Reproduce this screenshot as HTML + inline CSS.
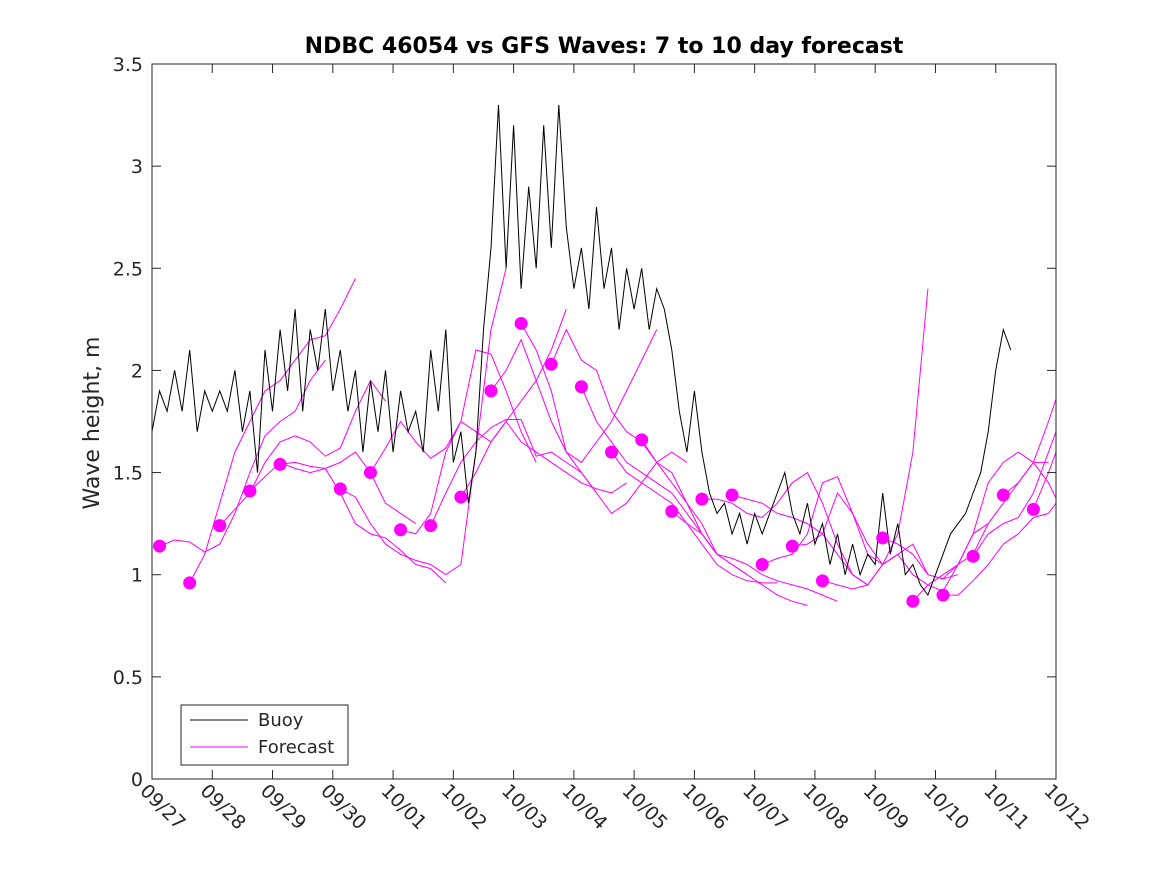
<!DOCTYPE html>
<html><head><meta charset="utf-8"><style>
body{margin:0;background:#fff;font-family:"Liberation Sans",sans-serif}
svg text{font-family:"DejaVu Sans","Liberation Sans",sans-serif;fill:#262626}
</style></head><body>
<svg id="chart" width="1167" height="875" xmlns="http://www.w3.org/2000/svg">
<rect width="1167" height="875" fill="#fff"/>
<defs><clipPath id="clip"><rect x="152" y="64" width="904" height="715"/></clipPath></defs>
<text x="604" y="53" text-anchor="middle" font-size="22" font-weight="bold" style="fill:#000">NDBC 46054 vs GFS Waves: 7 to 10 day forecast</text>
<text transform="translate(99,423) rotate(-90)" text-anchor="middle" font-size="22">Wave height, m</text>
<g id="plot" clip-path="url(#clip)"></g>
<g id="axes"></g>
<g>
<rect x="181" y="705" width="167" height="60" fill="#fff" stroke="#262626" stroke-width="1"/>
<line x1="190" y1="720" x2="248" y2="720" stroke="#000"/>
<text x="258" y="726" font-size="18">Buoy</text>
<line x1="190" y1="747" x2="248" y2="747" stroke="#f0f"/>
<text x="258" y="753" font-size="18">Forecast</text>
</g>
</svg>
<script>
const xTickLabels=["09/27","09/28","09/29","09/30","10/01","10/02","10/03","10/04","10/05","10/06","10/07","10/08","10/09","10/10","10/11","10/12"];
const yTicks=[0,0.5,1,1.5,2,2.5,3,3.5];
const yTickLabels=["0","0.5","1","1.5","2","2.5","3","3.5"];
const buoyStepDays=0.125;
const buoyValues=[
1.70,1.90,1.80,2.00,1.80,2.10,1.70,1.90,
1.80,1.90,1.80,2.00,1.70,1.90,1.50,2.10,
1.80,2.20,1.90,2.30,1.80,2.20,2.00,2.30,
1.90,2.10,1.80,2.00,1.60,1.95,1.70,2.00,
1.60,1.90,1.70,1.80,1.60,2.10,1.80,2.20,
1.55,1.70,1.35,1.60,2.20,2.60,3.30,2.50,
3.20,2.40,2.90,2.50,3.20,2.60,3.30,2.70,
2.40,2.60,2.30,2.80,2.40,2.60,2.20,2.50,
2.30,2.50,2.20,2.40,2.30,2.10,1.80,1.60,
1.90,1.60,1.40,1.30,1.35,1.20,1.30,1.15,
1.30,1.20,1.30,1.40,1.50,1.30,1.20,1.35,
1.15,1.25,1.05,1.20,1.00,1.15,1.00,1.10,
1.05,1.40,1.10,1.25,1.00,1.05,0.95,0.90,
1.00,1.10,1.20,1.25,1.30,1.40,1.50,1.70,
2.00,2.20,2.10];
const forecastStepDays=0.25;
const forecastStarts=[0.125,0.625,1.125,1.625,2.125,3.125,3.625,4.125,4.625,5.125,5.625,6.125,6.625,7.125,7.625,8.125,8.625,9.125,9.625,10.125,10.625,11.125,12.125,12.625,13.125,13.625,14.125,14.625];
const forecastValues=[
[1.14,1.17,1.16,1.11,1.15,1.30,1.50,1.68,1.75,1.80,1.95,2.05],
[0.96,1.10,1.35,1.60,1.75,1.90,1.95,2.05,2.15,2.17,2.30,2.45],
[1.24,1.32,1.40,1.55,1.65,1.68,1.65,1.58,1.62,1.80,1.95,1.85],
[1.41,1.48,1.55,1.52,1.50,1.52,1.55,1.60,1.50,1.35,1.30,1.25],
[1.54,1.55,1.53,1.52,1.40,1.25,1.20,1.18,1.12,1.05,1.03,0.96],
[1.42,1.38,1.25,1.15,1.10,1.07,1.05,1.00,1.05,1.60,2.20,2.50],
[1.50,1.62,1.75,1.65,1.57,1.62,1.75,2.10,2.08,1.90,1.70,1.55],
[1.22,1.20,1.30,1.60,1.75,1.70,1.65,1.75,1.85,1.95,2.10,2.30],
[1.24,1.40,1.55,1.65,1.72,1.76,1.76,1.58,1.60,1.55,1.50,1.40],
[1.38,1.50,1.65,1.75,1.65,1.60,1.55,1.50,1.45,1.42,1.40,1.45],
[1.90,2.00,2.15,1.95,1.75,1.60,1.55,1.65,1.75,1.90,2.05,2.20],
[2.23,2.10,1.90,1.60,1.50,1.40,1.30,1.35,1.45,1.55,1.60,1.55],
[2.03,2.20,2.05,2.00,1.80,1.70,1.65,1.55,1.50,1.35,1.25,1.10],
[1.92,1.75,1.65,1.55,1.50,1.45,1.40,1.30,1.20,1.10,1.05,1.00],
[1.60,1.50,1.45,1.40,1.35,1.25,1.15,1.05,1.00,0.97,0.96,0.96],
[1.66,1.55,1.45,1.35,1.20,1.10,1.05,1.00,0.95,0.90,0.87,0.85],
[1.31,1.25,1.20,1.10,1.08,1.05,1.00,0.97,0.95,0.93,0.90,0.87],
[1.37,1.37,1.35,1.30,1.28,1.35,1.45,1.50,1.35,1.15,1.00,0.95],
[1.39,1.37,1.35,1.30,1.28,1.25,1.20,1.10,1.00,0.95,1.05,1.10],
[1.05,1.08,1.10,1.20,1.45,1.48,1.30,1.10,1.05,1.20,1.60,2.40],
[1.14,1.15,1.20,1.40,1.30,1.15,1.05,1.10,1.15,1.00,0.98,1.00],
[0.97,0.95,0.93,0.95,1.05,1.10,1.00,0.95,0.92,1.05,1.10,1.25],
[1.18,1.15,1.10,1.00,0.98,1.05,1.20,1.25,1.35,1.45,1.55,1.55],
[0.87,0.95,1.00,1.05,1.20,1.45,1.55,1.60,1.55,1.45,1.30,1.20],
[0.90,0.90,0.97,1.05,1.15,1.20,1.28,1.30,1.40,1.55,1.80,1.95],
[1.09,1.20,1.25,1.28,1.40,1.60,1.80,1.90,1.85],
[1.39,1.45,1.55,1.75,1.97,2.00],
[1.32,1.50,1.70]];

const X0=152,X1=1056,Y0=779,Y1=64;
const xScale=d=>X0+d*(X1-X0)/15;
const yScale=v=>Y0-v*(Y0-Y1)/3.5;
const NS="http://www.w3.org/2000/svg";
function mk(tag,attrs,parent){const e=document.createElementNS(NS,tag);for(const k in attrs)e.setAttribute(k,attrs[k]);parent.appendChild(e);return e;}
const plot=document.getElementById('plot'),axes=document.getElementById('axes');

forecastValues.forEach((vals,i)=>{
  const pts=vals.map((v,j)=>xScale(forecastStarts[i]+j*forecastStepDays).toFixed(1)+','+yScale(v).toFixed(1)).join(' ');
  const pl=mk('polyline',{points:pts,fill:'none',stroke:'#f0f','stroke-width':1},plot);
  
  
});
const bp=buoyValues.map((v,j)=>xScale(j*buoyStepDays).toFixed(1)+','+yScale(v).toFixed(1)).join(' ');
const buoy=mk('polyline',{points:bp,fill:'none',stroke:'#000','stroke-width':1},plot);


forecastValues.forEach((vals,i)=>{
  const c=mk('circle',{cx:xScale(forecastStarts[i]),cy:yScale(vals[0]),r:6.5,fill:'#f0f'},plot);
  
  
});
const fr=mk('rect',{x:X0,y:Y1,width:X1-X0,height:Y0-Y1,fill:'none',stroke:'#262626','stroke-width':1},axes);


yTicks.forEach((t,i)=>{
  const y=yScale(t);
  mk('line',{x1:X0,y1:y,x2:X0+9,y2:y,stroke:'#262626'},axes);
  mk('line',{x1:X1,y1:y,x2:X1-9,y2:y,stroke:'#262626'},axes);
  const tx=mk('text',{x:X0-9,y:y+7,'text-anchor':'end','font-size':19},axes);
  tx.textContent=yTickLabels[i];
  
  
});
xTickLabels.forEach((lab,i)=>{
  const x=xScale(i);
  mk('line',{x1:x,y1:Y0,x2:x,y2:Y0-9,stroke:'#262626'},axes);
  mk('line',{x1:x,y1:Y1,x2:x,y2:Y1+9,stroke:'#262626'},axes);
  const tx=mk('text',{transform:`translate(${x-13},${Y0+13}) rotate(45)`,'font-size':19},axes);
  tx.textContent=lab;
  
  
});
</script>
</body></html>
